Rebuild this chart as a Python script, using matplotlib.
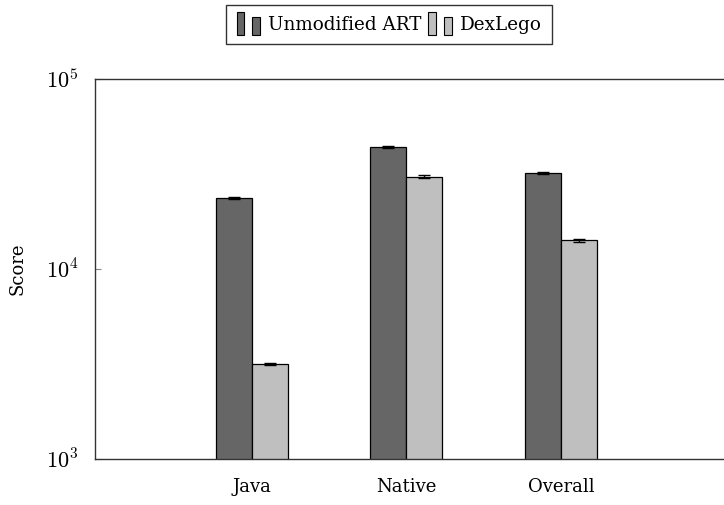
import numpy as np
import matplotlib
matplotlib.use("Agg")
from matplotlib import pyplot as plt
from matplotlib.legend_handler import HandlerBase
from matplotlib.patches import Rectangle

CATEGORIES = ["Java", "Native", "Overall"]
SERIES = ["Unmodified ART", "DexLego"]
ART_SCORES = [23650, 44000, 31900]
ART_ERR = [300, 500, 400]
DEXLEGO_SCORES = [3160, 30600, 14160]
DEXLEGO_ERR = [40, 600, 300]
COLORS = ["#666666", "#bfbfbf"]

plt.rcParams["font.family"] = ["DejaVu Serif"]
plt.rcParams["mathtext.fontset"] = "cm"


class TwoBarHandler(HandlerBase):
    # pgfplots-style ybar legend: two thin bars of different heights
    def create_artists(self, legend, orig_handle, xdescent, ydescent,
                       width, height, fontsize, trans):
        fc = orig_handle.get_facecolor()
        bw = width * 0.3
        y0 = -ydescent - 0.45 * height
        r1 = Rectangle((-xdescent, y0), bw, height * 1.85,
                       facecolor=fc, edgecolor="black", lw=0.8, transform=trans)
        r2 = Rectangle((-xdescent + width * 0.6, y0), bw, height * 1.45,
                       facecolor=fc, edgecolor="black", lw=0.8, transform=trans)
        return [r1, r2]


fig = plt.figure(figsize=(7.24, 5.05), dpi=100)
ax = fig.add_axes([95 / 724, 1 - 459 / 505, 645 / 724, 380 / 505])

x = np.arange(1, len(CATEGORIES) + 1)
w = 0.233
bars = []
for i, (vals, errs) in enumerate([(ART_SCORES, ART_ERR), (DEXLEGO_SCORES, DEXLEGO_ERR)]):
    b = ax.bar(x + (i - 0.5) * w, vals, w, color=COLORS[i], edgecolor="black",
               linewidth=0.9, label=SERIES[i], zorder=2,
               yerr=errs, error_kw=dict(ecolor="black", elinewidth=1.0,
                                        capsize=4, capthick=1.0))
    bars.append(b)

ax.set_yscale("log")
ax.set_ylim(1e3, 1e5)
ax.set_xlim(-0.016, 4.16)
ax.set_xticks(x)
ax.set_xticklabels(CATEGORIES, fontsize=13)
ax.tick_params(axis="x", length=0, pad=14)
ax.set_yticks([1e3, 1e4, 1e5])
ax.set_yticklabels([r"$10^3$", r"$10^4$", r"$10^5$"], fontsize=16)
ax.minorticks_off()
ax.tick_params(axis="y", which="major", direction="in", length=4,
               color="#888888", pad=12)
ax.set_ylabel("Score", fontsize=13, labelpad=14)

for s in ["top", "bottom", "left"]:
    ax.spines[s].set_color("#333333")
    ax.spines[s].set_linewidth(1.0)
ax.spines["right"].set_visible(False)

leg = fig.legend(handles=[bars[0].patches[0], bars[1].patches[0]], labels=SERIES,
                 loc="center", bbox_to_anchor=(389 / 724, 1 - 24.5 / 505), ncol=2,
                 fontsize=13.2, frameon=True, fancybox=False, edgecolor="black",
                 handler_map={Rectangle: TwoBarHandler()},
                 handlelength=1.4, handletextpad=0.3, columnspacing=0.4,
                 borderpad=0.55, borderaxespad=0)
leg.get_frame().set_linewidth(1.0)

fig.savefig("out.png", dpi=100)
